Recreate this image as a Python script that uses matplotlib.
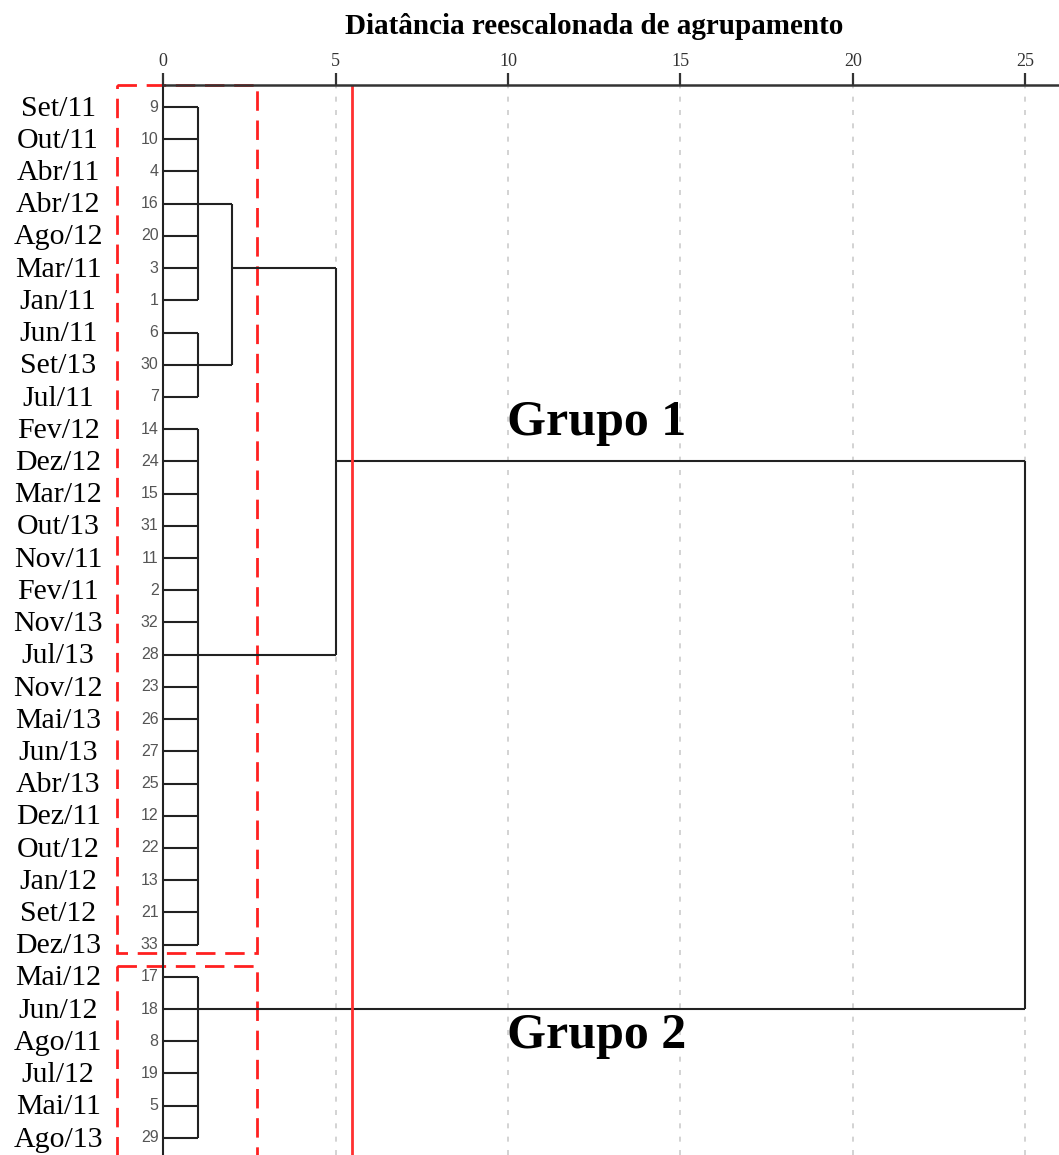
import matplotlib.pyplot as plt
from matplotlib.patches import Rectangle

# leaves in dendrogram order (top to bottom)
months = ["Set/11", "Out/11", "Abr/11", "Abr/12", "Ago/12", "Mar/11", "Jan/11",
          "Jun/11", "Set/13", "Jul/11", "Fev/12", "Dez/12", "Mar/12", "Out/13",
          "Nov/11", "Fev/11", "Nov/13", "Jul/13", "Nov/12", "Mai/13", "Jun/13",
          "Abr/13", "Dez/11", "Out/12", "Jan/12", "Set/12", "Dez/13", "Mai/12",
          "Jun/12", "Ago/11", "Jul/12", "Mai/11", "Ago/13"]
cases = [9, 10, 4, 16, 20, 3, 1, 6, 30, 7, 14, 24, 15, 31, 11, 2, 32, 28, 23,
         26, 27, 25, 12, 22, 13, 21, 33, 17, 18, 8, 19, 5, 29]

# first level clusters: (first row, last row), merge distance, joint row
leaf_groups = [(0, 6), (7, 9), (10, 26), (27, 32)]
leaf_height = 1
leaf_joints = [3, 8, 17, 28]

# upper merges: (node a, node b, distance, joint row); nodes 0-3 are leaf groups
merges = [(0, 1, 2, 5), (4, 2, 5, 11), (5, 3, 25, None)]

cut_value = 5.48
xticks = [0, 5, 10, 15, 20, 25]

fig = plt.figure(figsize=(10.59, 11.55), dpi=100)
ax = fig.add_axes([163 / 1059, 0, 896 / 1059, 1070 / 1155])
ax.set_xlim(0, 896 / 34.5)
ax.set_ylim(32.53, -0.683)

line_kw = dict(color="#222222", lw=1.5, solid_capstyle="butt")

# leaf groups
heights = {}
joints = {}
for i, (r0, r1) in enumerate(leaf_groups):
    for r in range(r0, r1 + 1):
        ax.plot([0, leaf_height], [r, r], **line_kw)
    ax.plot([leaf_height, leaf_height], [r0, r1], **line_kw)
    heights[i] = leaf_height
    joints[i] = leaf_joints[i]

# upper merges
for k, (a, b, h, j) in enumerate(merges):
    node = len(leaf_groups) + k
    ax.plot([heights[a], h], [joints[a], joints[a]], **line_kw)
    ax.plot([heights[b], h], [joints[b], joints[b]], **line_kw)
    ax.plot([h, h], [joints[a], joints[b]], **line_kw)
    heights[node] = h
    joints[node] = j

# labels
for r, (m, c) in enumerate(zip(months, cases)):
    ax.text(-3.04, r + 0.05, m, ha="center", va="center", fontsize=21.5,
            family="Liberation Serif", clip_on=False)
    ax.text(-0.13, r, str(c), ha="right", va="center", fontsize=11.5,
            color="#555555", family="Liberation Sans", clip_on=False)

# cut line and group boxes
ax.axvline(cut_value, color="#ff3030", lw=2)
box_kw = dict(fill=False, edgecolor="#ff2020", lw=2, linestyle=(0, (7, 3.5)),
              clip_on=False)
ax.add_patch(Rectangle((-1.333, -0.683), 4.06, 26.94, **box_kw))
ax.add_patch(Rectangle((-1.333, 26.66), 4.06, 7.0, **box_kw))

ax.text(9.97, 9.8, "Grupo 1", fontsize=36, fontweight="bold",
        family="Liberation Serif", va="center")
ax.text(9.97, 28.85, "Grupo 2", fontsize=36, fontweight="bold",
        family="Liberation Serif", va="center")

# top axis
for side in ["right", "bottom"]:
    ax.spines[side].set_visible(False)
ax.spines["top"].set_linewidth(1.8)
ax.spines["top"].set_color("#333333")
ax.spines["left"].set_linewidth(1.5)
ax.spines["left"].set_color("#222222")
ax.xaxis.tick_top()
ax.set_xticks(xticks)
ax.set_yticks([])
ax.tick_params(axis="x", length=9, width=1.6, color="#333333", pad=2,
               labelsize=13, labelcolor="#333333")
for lab in ax.get_xticklabels():
    lab.set_family("Liberation Serif")
ax.grid(axis="x", color="#cccccc", linestyle=(0, (3, 5)), lw=1.2)
ax.set_axisbelow(True)

fig.text(594 / 1059, 1 - 26 / 1155, "Diatância reescalonada de agrupamento",
         ha="center", va="center", fontsize=21, fontweight="bold",
         family="Liberation Serif")

fig.savefig("out.png", dpi=100)
